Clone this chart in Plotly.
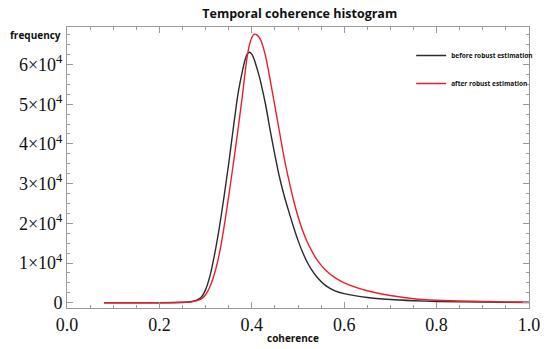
import plotly.graph_objects as go

# coherence sample positions
coherence = [0.08, 0.20, 0.25, 0.27, 0.28, 0.29, 0.30, 0.31, 0.32, 0.33, 0.34, 0.35,
             0.36, 0.37, 0.38, 0.385, 0.39, 0.395, 0.40, 0.405, 0.41, 0.415, 0.42, 0.43, 0.44, 0.45,
             0.46, 0.47, 0.48, 0.49, 0.50, 0.51, 0.52, 0.53, 0.54, 0.56, 0.58, 0.60,
             0.65, 0.70, 0.75, 0.80, 0.90, 1.00]

before_freq = [0, 0, 100, 300, 600, 1300, 3300, 7000, 12500, 19100, 26800, 35000,
               44000, 52500, 58500, 61000, 62600, 63100, 62600, 61300, 59500, 57500, 55200, 49800, 43300, 37200,
               31600, 27000, 23000, 19200, 15700, 12700, 10200, 8200, 6600, 4300, 3000, 2300,
               1300, 800, 500, 300, 150, 50]

after_freq = [0, 0, 50, 200, 450, 900, 2000, 4200, 7600, 12500, 19100, 26800,
              35000, 43500, 52500, 57500, 62000, 65000, 66800, 67600, 67500, 67000, 66000, 62000, 56000, 49500,
              43000, 36500, 31000, 26000, 21700, 18200, 15300, 13000, 11000, 8200, 6300, 5000,
              3000, 1800, 1000, 600, 300, 100]

x_tick_vals = [0.0, 0.2, 0.4, 0.6, 0.8, 1.0]
x_tick_text = ["0.0", "0.2", "0.4", "0.6", "0.8", "1.0"]
y_tick_vals = [0, 10000, 20000, 30000, 40000, 50000, 60000]
y_tick_text = ["0", "1×10<sup>4</sup>", "2×10<sup>4</sup>", "3×10<sup>4</sup>",
               "4×10<sup>4</sup>", "5×10<sup>4</sup>", "6×10<sup>4</sup>"]

fig = go.Figure()
fig.add_trace(go.Scatter(x=coherence, y=before_freq, mode="lines",
                         name="before robust estimation", legendgroup="a",
                         line=dict(color="#2b2b2b", width=1.4, shape="spline", smoothing=0.6)))
fig.add_trace(go.Scatter(x=coherence, y=after_freq, mode="lines",
                         name="after robust estimation", legendgroup="b",
                         line=dict(color="#e8202a", width=1.4, shape="spline", smoothing=0.6)))

axis_common = dict(showline=True, linecolor="#9a9a9a", linewidth=1, mirror="ticks",
                   ticks="inside", tickcolor="#9a9a9a", ticklen=6, tickwidth=1,
                   showgrid=False, zeroline=False, automargin=False,
                   tickfont=dict(family="Liberation Serif", size=18, color="#111"))

fig.update_xaxes(range=[0, 1.0], tickvals=x_tick_vals, ticktext=x_tick_text,
                 minor=dict(dtick=0.05, tick0=0, ticks="inside", ticklen=3,
                            tickcolor="#9a9a9a"),
                 **axis_common)
fig.update_yaxes(range=[-1335, 69450], tickvals=y_tick_vals, ticktext=y_tick_text,
                 minor=dict(dtick=2500, tick0=0, ticks="inside", ticklen=3,
                            tickcolor="#9a9a9a"),
                 **axis_common)

fig.update_layout(
    width=550, height=349,
    margin=dict(l=67, r=19, t=27, b=41),
    paper_bgcolor="white", plot_bgcolor="white",
    title=dict(text="<b>Temporal coherence histogram</b>", x=0.545, xanchor="center",
               y=0.96, yanchor="middle",
               font=dict(family="Open Sans", size=12.5, color="#111")),
    legend=dict(x=0.745, y=0.95, xanchor="left", yanchor="top",
                bgcolor="rgba(0,0,0,0)", traceorder="grouped", tracegroupgap=9,
                font=dict(family="Open Sans", size=6.5, color="#111", weight="bold"),
                itemwidth=30),
    annotations=[
        dict(text="<b>frequency</b>", xref="paper", yref="paper", x=-0.128, y=0.973,
             xanchor="left", yanchor="middle", showarrow=False,
             font=dict(family="Open Sans", size=10, color="#111")),
        dict(text="<b>coherence</b>", xref="paper", yref="paper", x=0.49, y=-0.108,
             xanchor="center", yanchor="middle", showarrow=False,
             font=dict(family="Open Sans", size=10, color="#111")),
    ],
)

fig.write_html("out.html", config={"displayModeBar": False},
               post_script="document.body.style.margin='0';")
